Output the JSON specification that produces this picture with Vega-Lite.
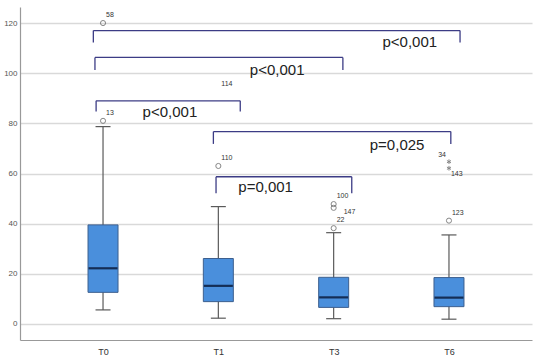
{
  "$schema": "https://vega.github.io/schema/vega-lite/v6.json",
  "width": 512,
  "height": 333,
  "autosize": {"type": "none"},
  "padding": {"left": 20, "top": 7, "right": 11, "bottom": 21},
  "background": "white",
  "config": {"view": {"stroke": null}, "font": "Liberation Sans"},
  "datasets": {
    "boxes": [
      {"g": "T0", "i": 0, "lo": 5.6, "q1": 12.6, "med": 22.2, "q3": 39.5, "hi": 78.7},
      {"g": "T1", "i": 1, "lo": 2.3, "q1": 8.9, "med": 15.2, "q3": 26.1, "hi": 46.8},
      {"g": "T3", "i": 2, "lo": 2.1, "q1": 6.6, "med": 10.6, "q3": 18.6, "hi": 36.4},
      {"g": "T6", "i": 3, "lo": 1.9, "q1": 6.9, "med": 10.5, "q3": 18.5, "hi": 35.5}
    ],
    "outliers": [
      {"i": 0, "v": 120, "id": "58", "kind": "o"},
      {"i": 0, "v": 81, "id": "13", "kind": "o"},
      {"i": 1, "v": 92.4, "id": "114", "kind": "hidden"},
      {"i": 1, "v": 63, "id": "110", "kind": "o"},
      {"i": 2, "v": 47.8, "id": "100", "kind": "o"},
      {"i": 2, "v": 46.3, "id": "147", "kind": "o"},
      {"i": 2, "v": 38.2, "id": "22", "kind": "o"},
      {"i": 3, "v": 41.2, "id": "123", "kind": "o"},
      {"i": 3, "v": 64.7, "id": "34", "kind": "star"},
      {"i": 3, "v": 62.1, "id": "143", "kind": "star"}
    ],
    "brackets": [
      {"x1": -0.084, "x2": 3.096, "y": 117.0, "yd": 112.2, "tx": 2.66, "ty": 112.4, "p": "p<0,001"},
      {"x1": -0.07, "x2": 2.08, "y": 106.3, "yd": 101.3, "tx": 1.51, "ty": 101.3, "p": "p<0,001"},
      {"x1": -0.06, "x2": 1.19, "y": 89.0, "yd": 84.7, "tx": 0.58, "ty": 84.6, "p": "p<0,001"},
      {"x1": 0.957, "x2": 3.016, "y": 76.7, "yd": 71.8, "tx": 2.55, "ty": 71.4, "p": "p=0,025"},
      {"x1": 0.98, "x2": 2.157, "y": 58.7, "yd": 52.1, "tx": 1.41, "ty": 54.7, "p": "p=0,001"}
    ]
  },
  "layer": [
    {
      "data": {"name": "boxes"},
      "mark": {"type": "rule", "color": "#5a5a5a", "strokeWidth": 1.2},
      "encoding": {
        "x": {
          "field": "i", "type": "quantitative",
          "scale": {"domain": [-0.72, 3.72], "nice": false, "zero": false},
          "axis": {
            "values": [0, 1, 2, 3],
            "labelExpr": "['T0','T1','T3','T6'][datum.value]",
            "ticks": false, "grid": false, "title": null,
            "domainColor": "#999999", "domainWidth": 1.2,
            "labelFontSize": 9, "labelColor": "#333333", "labelPadding": 7
          }
        },
        "y": {
          "field": "lo", "type": "quantitative",
          "scale": {"domain": [-6.4, 126.4], "nice": false, "zero": false},
          "axis": {
            "values": [0, 20, 40, 60, 80, 100, 120],
            "ticks": false, "grid": true, "gridColor": "#d9d9d9", "gridWidth": 1.5,
            "title": null, "domainColor": "#999999", "domainWidth": 1.2,
            "labelFontSize": 8, "labelColor": "#555555", "labelPadding": 3
          }
        },
        "y2": {"field": "hi"}
      }
    },
    {
      "data": {"name": "boxes"},
      "mark": {"type": "rule", "color": "#5a5a5a", "strokeWidth": 1.2, "xOffset": -7.5, "x2Offset": 7.5},
      "encoding": {
        "x": {"field": "i", "type": "quantitative"},
        "x2": {"field": "i"},
        "y": {"field": "lo", "type": "quantitative"}
      }
    },
    {
      "data": {"name": "boxes"},
      "mark": {"type": "rule", "color": "#5a5a5a", "strokeWidth": 1.2, "xOffset": -7.5, "x2Offset": 7.5},
      "encoding": {
        "x": {"field": "i", "type": "quantitative"},
        "x2": {"field": "i"},
        "y": {"field": "hi", "type": "quantitative"}
      }
    },
    {
      "data": {"name": "boxes"},
      "mark": {"type": "rect", "fill": "#4a8fdc", "stroke": "#3d5f8e", "strokeWidth": 1, "xOffset": -15, "x2Offset": 15},
      "encoding": {
        "x": {"field": "i", "type": "quantitative"},
        "x2": {"field": "i"},
        "y": {"field": "q1", "type": "quantitative"},
        "y2": {"field": "q3"}
      }
    },
    {
      "data": {"name": "boxes"},
      "mark": {"type": "rule", "color": "#142d55", "strokeWidth": 2.2, "xOffset": -14.5, "x2Offset": 14.5},
      "encoding": {
        "x": {"field": "i", "type": "quantitative"},
        "x2": {"field": "i"},
        "y": {"field": "med", "type": "quantitative"}
      }
    },
    {
      "data": {"name": "outliers"},
      "transform": [{"filter": "datum.kind == 'o'"}],
      "mark": {"type": "point", "shape": "circle", "filled": false, "stroke": "#555555", "strokeWidth": 1, "size": 26},
      "encoding": {
        "x": {"field": "i", "type": "quantitative"},
        "y": {"field": "v", "type": "quantitative"}
      }
    },
    {
      "data": {"name": "outliers"},
      "transform": [{"filter": "datum.kind == 'star'"}],
      "mark": {"type": "point", "shape": "M0,-1L0,1M-0.87,-0.5L0.87,0.5M-0.87,0.5L0.87,-0.5", "filled": false, "stroke": "#555555", "strokeWidth": 1, "size": 22},
      "encoding": {
        "x": {"field": "i", "type": "quantitative"},
        "y": {"field": "v", "type": "quantitative"}
      }
    },
    {
      "data": {"name": "outliers"},
      "transform": [{"filter": "datum.id != '147' && datum.id != '143' && datum.id != '34'"}],
      "mark": {"type": "text", "align": "left", "baseline": "middle", "dx": 3, "dy": -8, "fontSize": 7, "color": "#333333"},
      "encoding": {
        "x": {"field": "i", "type": "quantitative"},
        "y": {"field": "v", "type": "quantitative"},
        "text": {"field": "id"}
      }
    },
    {
      "data": {"name": "outliers"},
      "transform": [{"filter": "datum.id == '147'"}],
      "mark": {"type": "text", "align": "left", "baseline": "middle", "dx": 10, "dy": 4, "fontSize": 7, "color": "#333333"},
      "encoding": {
        "x": {"field": "i", "type": "quantitative"},
        "y": {"field": "v", "type": "quantitative"},
        "text": {"field": "id"}
      }
    },
    {
      "data": {"name": "outliers"},
      "transform": [{"filter": "datum.id == '143'"}],
      "mark": {"type": "text", "align": "left", "baseline": "middle", "dx": 2, "dy": 6, "fontSize": 7, "color": "#333333"},
      "encoding": {
        "x": {"field": "i", "type": "quantitative"},
        "y": {"field": "v", "type": "quantitative"},
        "text": {"field": "id"}
      }
    },
    {
      "data": {"name": "outliers"},
      "transform": [{"filter": "datum.id == '34'"}],
      "mark": {"type": "text", "align": "right", "baseline": "middle", "dx": -3, "dy": -7, "fontSize": 7, "color": "#333333"},
      "encoding": {
        "x": {"field": "i", "type": "quantitative"},
        "y": {"field": "v", "type": "quantitative"},
        "text": {"field": "id"}
      }
    },
    {
      "data": {"name": "brackets"},
      "mark": {"type": "rule", "color": "#3c3c85", "strokeWidth": 1.3},
      "encoding": {
        "x": {"field": "x1", "type": "quantitative"},
        "x2": {"field": "x2"},
        "y": {"field": "y", "type": "quantitative"}
      }
    },
    {
      "data": {"name": "brackets"},
      "mark": {"type": "rule", "color": "#3c3c85", "strokeWidth": 1.3},
      "encoding": {
        "x": {"field": "x1", "type": "quantitative"},
        "y": {"field": "y", "type": "quantitative"},
        "y2": {"field": "yd"}
      }
    },
    {
      "data": {"name": "brackets"},
      "mark": {"type": "rule", "color": "#3c3c85", "strokeWidth": 1.3},
      "encoding": {
        "x": {"field": "x2", "type": "quantitative"},
        "y": {"field": "y", "type": "quantitative"},
        "y2": {"field": "yd"}
      }
    },
    {
      "data": {"name": "brackets"},
      "mark": {"type": "text", "align": "center", "baseline": "middle", "fontSize": 15, "color": "#222222"},
      "encoding": {
        "x": {"field": "tx", "type": "quantitative"},
        "y": {"field": "ty", "type": "quantitative"},
        "text": {"field": "p"}
      }
    }
  ]
}
